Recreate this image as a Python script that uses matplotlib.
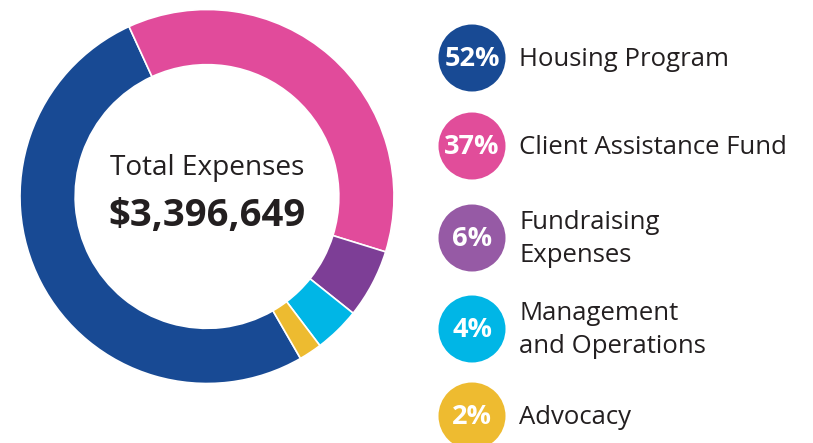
import matplotlib.pyplot as plt
from matplotlib.patches import Circle

categories = ['Housing Program', 'Client Assistance Fund', 'Fundraising\nExpenses',
              'Management\nand Operations', 'Advocacy']
percents = [52, 37, 6, 4, 2]
pct_labels = ['52%', '37%', '6%', '4%', '2%']
ring_colors = ['#184a94', '#e14b9b', '#7d3e96', '#00b6e6', '#edbb30']
dot_colors = ['#184a94', '#e14d9a', '#965aa5', '#00b6e6', '#eebb30']
total_title = 'Total Expenses'
total_value = '$3,396,649'

plt.rcParams['font.family'] = ['Open Sans', 'DejaVu Sans']
W, H = 813, 443
fig = plt.figure(figsize=(W / 100, H / 100), dpi=100)

# donut (pixel box centred at 207,196 with radius 187)
cx, cy, r = 207, 196.5, 187
ax = fig.add_axes([(cx - r) / W, (H - cy - r) / H, 2 * r / W, 2 * r / H])
ax.pie(percents, colors=ring_colors, startangle=-60, counterclock=False,
       radius=1, wedgeprops=dict(width=0.295, edgecolor='white', linewidth=1.2))
ax.set_xlim(-1, 1)
ax.set_ylim(-1, 1)
ax.axis('off')
ax.text(0, 0.155, total_title, ha='center', va='center', fontsize=20.2, color='#231f20')
ax.text(0, -0.105, total_value, ha='center', va='center', fontsize=27.5,
        fontweight='bold', color='#231f20')

# legend in pixel coordinates
lg = fig.add_axes([0, 0, 1, 1])
lg.set_xlim(0, W)
lg.set_ylim(H, 0)
lg.axis('off')
ys = [58, 146, 238, 329, 416]
for i in range(len(categories)):
    lg.add_patch(Circle((472, ys[i]), 33.5, color=dot_colors[i], lw=0))
    lg.text(472, ys[i] + 1, pct_labels[i], ha='center', va='center', fontsize=19.5,
            fontweight='bold', color='white')
    lg.text(519, ys[i] + 1, categories[i], ha='left', va='center', fontsize=18.5,
            color='#231f20', linespacing=1.45)

fig.savefig('out.png', dpi=100)
